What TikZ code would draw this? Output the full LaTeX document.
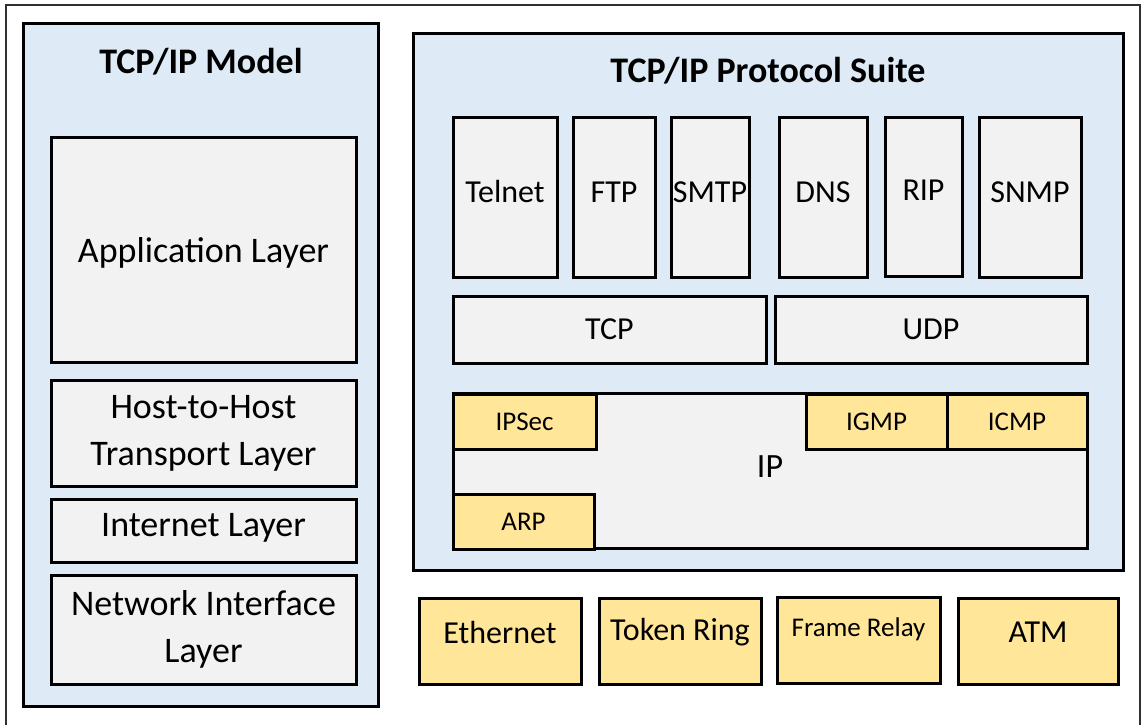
\documentclass[tikz,border=0pt]{standalone}
\usepackage{fontspec}
\setmainfont{Carlito}
\definecolor{panelblue}{HTML}{DEEAF6}
\definecolor{boxgray}{HTML}{F2F2F2}
\definecolor{boxyellow}{HTML}{FFE699}
\definecolor{framegray}{HTML}{303030}
\newcommand{\fsz}[1]{\fontsize{#1}{#1}\selectfont}
\begin{document}
\begin{tikzpicture}[x=1pt,y=-1pt,
  panel/.style={draw=black,line width=3pt,fill=panelblue,inner sep=0pt,rectangle},
  gbox/.style={draw=black,line width=3pt,fill=boxgray,inner sep=0pt,rectangle,align=center},
  ybox/.style={draw=black,line width=3pt,fill=boxyellow,inner sep=0pt,rectangle,align=center},
  big/.style={font=\fontsize{36}{47}\selectfont},
  mid/.style={font=\fsz{32}},
  small/.style={font=\fsz{27}},
  ttl/.style={font=\fontsize{36}{40}\selectfont\bfseries}]
\useasboundingbox (0,0) rectangle (1141,724);
\fill[white] (0,0) rectangle (1141,724);
\draw[framegray,line width=2pt] (6,730) -- (6,5) -- (1140,5) -- (1140,730);
% left panel
\node[panel,minimum width=355,minimum height=683] (lpanel) at (200.5,364.5) {};
\node[ttl] (ltitle) at (201,62) {TCP/IP Model};
\node[gbox,minimum width=305,minimum height=225,label={[big,yshift=-3pt]center:Application Layer}] (app) at (203.5,249.5) {};
\node[gbox,big,minimum width=305,minimum height=106] (host) at (203.5,433) {Host-to-Host\\Transport Layer};
\node[gbox,minimum width=305,minimum height=63,label={[big,yshift=3pt]center:Internet Layer}] (inet) at (203.5,530.5) {};
\node[gbox,big,minimum width=305,minimum height=109] (netif) at (203.5,629.5) {Network Interface\\Layer};
% right panel
\node[panel,minimum width=710,minimum height=537] (rpanel) at (768,301.5) {};
\node[ttl] (rtitle) at (768,71) {TCP/IP Protocol Suite};
\node[gbox,minimum width=104,minimum height=160,label={[mid,yshift=5pt]center:Telnet}] (telnet) at (505,197) {};
\node[gbox,minimum width=82,minimum height=160,label={[mid,yshift=5pt]center:FTP}] (ftp) at (614,197) {};
\node[gbox,minimum width=78,minimum height=160,label={[mid,yshift=5pt]center:SMTP}] (smtp) at (710,197) {};
\node[gbox,minimum width=88,minimum height=160,label={[mid,yshift=5pt]center:DNS}] (dns) at (823,197) {};
\node[gbox,minimum width=77,minimum height=159,label={[mid,yshift=6pt]center:RIP}] (rip) at (923.5,196.5) {};
\node[gbox,minimum width=102,minimum height=160,label={[mid,yshift=5pt]center:SNMP}] (snmp) at (1030,197) {};
\node[gbox,mid,minimum width=313,minimum height=67] (tcp) at (609.5,329.5) {TCP};
\node[gbox,mid,minimum width=312,minimum height=67] (udp) at (931,329.5) {UDP};
\node[gbox,minimum width=634,minimum height=155,label={[font=\fsz{34},yshift=4pt]center:IP}] (ip) at (770,470.5) {};
\node[ybox,small,minimum width=143,minimum height=55] (ipsec) at (524.5,421.5) {IPSec};
\node[ybox,small,minimum width=141,minimum height=55] (arp) at (523.5,521.5) {ARP};
\node[ybox,small,minimum width=141,minimum height=55] (igmp) at (876.5,421.5) {IGMP};
\node[ybox,small,minimum width=140,minimum height=55] (icmp) at (1017,421.5) {ICMP};
% link layer
\node[ybox,minimum width=162,minimum height=86,label={[mid,yshift=9pt]center:Ethernet}] (eth) at (500,641) {};
\node[ybox,minimum width=162,minimum height=86,label={[mid,yshift=9pt]center:Token Ring}] (token) at (680,641) {};
\node[ybox,minimum width=163,minimum height=86,label={[font=\fsz{27},yshift=11pt]center:Frame Relay}] (frame) at (858.5,640) {};
\node[ybox,minimum width=160,minimum height=86,label={[mid,yshift=9pt]center:ATM}] (atm) at (1038,641) {};
\end{tikzpicture}
\end{document}
